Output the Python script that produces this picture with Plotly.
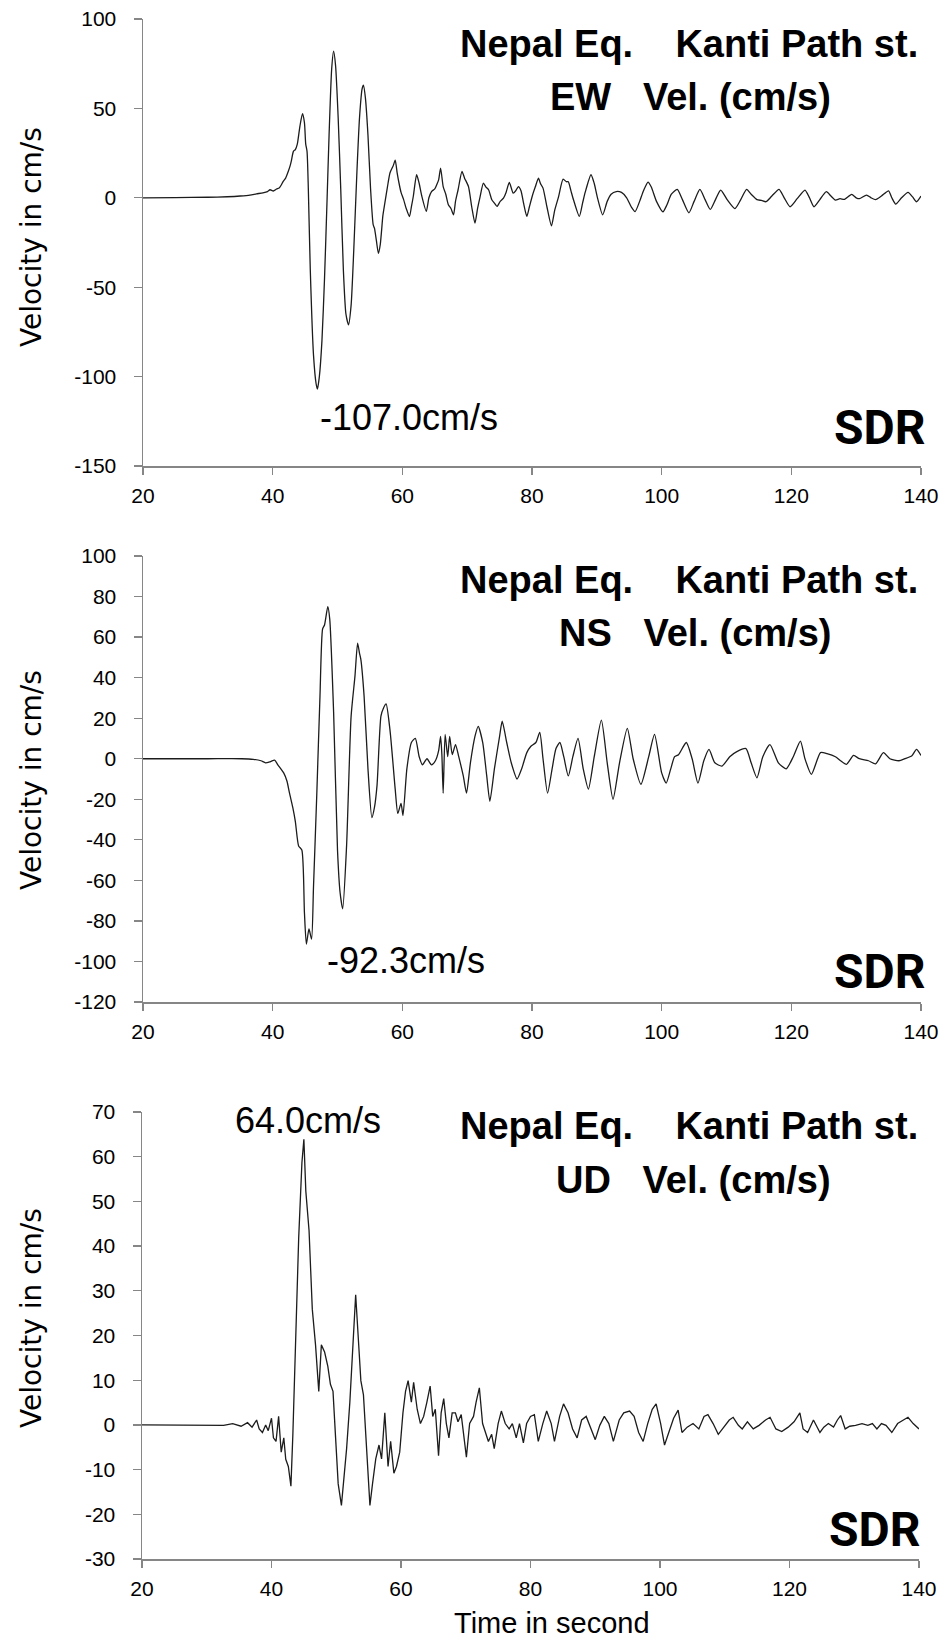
import plotly.graph_objects as go

W, H = 945, 1641

# ---------------- data ----------------
time_ew = [20, 25, 30, 33, 35, 36.5, 37.5, 38.5, 39.2, 39.6, 40.1, 40.6, 41.0, 41.3, 41.6, 42.0, 42.4, 42.7,
           42.9, 43.2, 43.5, 43.8, 44.2, 44.6, 44.9, 45.1, 45.3, 45.5, 45.8, 46.3, 46.7, 46.9, 47.2, 47.6,
           48.0, 48.4, 48.7, 49.1, 49.4, 49.7, 50.1, 50.5, 50.9, 51.3, 51.7, 52.1, 52.5, 53.0, 53.4, 53.8,
           54.0, 54.3, 54.7, 55.1, 55.5, 55.7, 56.0, 56.3, 56.6, 57.0, 57.3, 57.7, 58.1, 58.6, 58.9, 59.2,
           59.5, 59.8, 60.2, 60.6, 61.1, 61.4, 61.7, 62.2, 62.6, 63.0, 63.7, 64.1, 64.5, 65.0, 65.3, 65.6,
           65.9, 66.3, 66.7, 67.1, 67.5, 67.9, 68.2, 68.6, 69.2, 69.6, 70.2, 70.7, 71.2, 71.6, 72.0, 72.5,
           72.9, 73.3, 73.8, 74.2, 74.6, 75.1, 75.6, 76.0, 76.5, 77.1, 77.5, 77.9, 78.3, 78.7, 79.2, 79.6,
           80.1, 80.5, 81.0, 81.3, 81.7, 82.3, 83.0, 83.5, 84.1, 84.8, 85.3, 85.6, 86.0, 86.4, 87.3, 87.8,
           88.2, 89.1, 89.6, 90.1, 90.9, 91.6, 92.2, 93.0, 93.8, 94.6, 95.3, 95.9, 96.6, 97.2, 97.9, 98.4,
           99.2, 100.2, 100.8, 101.5, 102.4, 103.2, 104.2, 105.0, 105.9, 106.7, 107.5, 108.3, 109.1, 110.1,
           111.3, 112.2, 113.1, 113.8, 114.7, 115.4, 116.1, 117.0, 118.1, 118.9, 119.8, 120.9, 122.1, 122.8,
           123.5, 124.4, 125.4, 126.1, 126.8, 127.5, 128.2, 129.3, 130.0, 130.5, 131.6, 132.3, 133.0, 133.9,
           135.0, 135.5, 136.1, 137.0, 138.0, 138.7, 139.3, 140]
vel_ew = [0, 0.1, 0.3, 0.6, 1.0, 1.5, 2.2, 2.8, 3.5, 4.5, 3.8, 4.9, 5.5, 7, 9.1, 11, 14.7, 18,
          21, 26, 27, 30, 40, 47, 42, 30, 26, 5, -40, -88, -104, -107, -100, -80,
          -45, 0, 35, 72, 82, 74, 45, 5, -40, -65, -71, -60, -30, 15, 45, 61,
          63, 56, 35, 5, -15, -17, -24, -31, -26, -10, -3, 6, 14, 18, 21, 14,
          8, 3, -1, -6, -10.5, -5, 1, 12.9, 8, 1, -7.6, 0, 3.5, 5, 7.3, 10,
          16.6, 6.3, 2, -3.9, -6, -9.5, -2, 4.5, 14.7, 11, 6.3, -5, -14.2, -6, 0.7, 8.2,
          6, 4.5, -1.1, -3, -4.8, -2, -0.2, 3, 8.6, 2.6, 4, 6.3, 4, -3, -10.4, -5,
          1.7, 6, 11, 8, 5.4, -5, -15.7, -7, 0.7, 10.4, 9, 9, 4, -1.1, -10.4, -3,
          3, 12.9, 8, 0, -9.5, -2, 2, 3.5, 3, 0, -5, -7.7, -2, 4, 8.8, 6,
          -2, -7.8, -4, 2, 4.7, -1, -8.4, -2, 4.7, -1, -6.5, -1, 4.3, -1,
          -6, -1, 4.7, 2, -1, -1.5, -2.2, 1, 4.7, 0, -5, -0.5, 4.3, 0,
          -5, -1, 3.4, 1, -1.3, -0.5, -0.9, 1.9, 0, -0.5, 1.5, 0, -1, 1,
          3.9, 0, -3.5, 0, 3, 0.5, -2.2, 1]

time_ns = [20, 30, 35.2, 37, 38.2, 38.9, 39.6, 40.3, 40.8, 41.7, 42.2, 42.6, 43.1, 43.5, 44.0, 44.5, 44.9,
           45.2, 45.6, 46.0, 46.3, 46.8, 47.3, 47.7, 48.0, 48.5, 48.8, 49.4, 50.0, 50.4, 50.8, 51.4, 52.1,
           52.7, 53.1, 53.4, 53.6, 54.1, 54.7, 55.3, 55.7, 56.1, 56.7, 57.1, 57.5, 58.1, 58.9, 59.3, 59.8,
           60.1, 60.7, 61.4, 62.0, 62.6, 63.1, 63.8, 64.5, 65.1, 65.6, 65.9, 66.1, 66.3, 66.6, 67.0, 67.3,
           67.7, 68.2, 68.7, 69.4, 69.9, 70.5, 71.2, 71.7, 72.4, 73.0, 73.5, 74.2, 75.0, 75.4, 76.1, 76.8,
           77.7, 78.4, 79.2, 79.8, 80.6, 81.2, 81.7, 82.4, 83.1, 83.7, 84.3, 84.9, 85.6, 86.3, 87.1, 87.9,
           88.7, 89.6, 90.7, 91.6, 92.5, 93.5, 94.7, 95.6, 96.8, 98.0, 98.9, 100.0, 100.7, 101.4, 102.0,
           102.6, 103.8, 104.7, 105.6, 106.5, 107.3, 108.2, 109.3, 110.5, 111.6, 113.0, 113.8, 114.7, 115.6,
           116.7, 118.0, 119.2, 120.3, 121.4, 122.1, 123.1, 124.5, 125.5, 126.8, 127.6, 128.5, 129.6, 130.5,
           131.9, 133.0, 134.2, 135.2, 136.6, 137.5, 138.6, 139.3, 140]
vel_ns = [0, 0, 0, -0.3, -1, -2, -1.5, -0.7, -3, -7, -11, -17, -24, -31, -43, -45, -76,
          -91.5, -84, -89, -63, -18, 31, 64, 66, 75, 69, 23, -45, -66, -74, -43, 21,
          41, 57, 52, 49, 31, -5, -29, -24, -13, 21, 25, 27, 14, -15, -27, -22,
          -28, -5, 8, 10, 1, -3, 0, -3, -1, 4, 11, 2, -17, 12, 1, 11,
          2, 7, 1, -8.5, -17, -2, 11, 16, 8, -8, -21, -5, 11, 18.5, 8, -2,
          -10, -5, 3, 6, 8, 13, 0, -17, -5, 5, 8, 1, -8.5, 1, 10, -5,
          -15, 1, 19, -2, -20, -2, 15, 0, -12.6, 1, 12, -7, -12, -5, 1,
          2, 8, 0, -12, -1, 4.6, -2, -3.6, 1, 3.5, 5, -2, -9.4, 1,
          7, -2, -5, 1, 8.7, 0, -7.7, 3, 2.5, 1, -1, -2.8, 1.6, 0,
          -1, -2.5, 3, 0, -1, 0, 1.5, 4.6, 1.6]

time_ud = [20, 28.8, 32.6, 34.0, 35.3, 36.3, 37.0, 37.7, 38.1, 38.6, 39.1, 39.5, 40.0, 40.3, 40.7, 41.1,
           41.5, 41.9, 42.2, 42.6, 43.0, 43.3, 43.7, 44.2, 44.7, 45.0, 45.3, 45.8, 46.3, 46.8, 47.3, 47.7,
           48.2, 48.7, 49.1, 49.5, 49.9, 50.3, 50.8, 51.2, 51.6, 52.1, 52.5, 53.0, 53.4, 53.8, 54.2, 54.7,
           55.2, 55.6, 56.1, 56.6, 57.0, 57.5, 58.0, 58.4, 58.9, 59.3, 59.8, 60.3, 60.7, 61.1, 61.6, 61.95,
           62.5, 63.0, 63.5, 64.0, 64.5, 64.9, 65.3, 65.8, 66.2, 66.6, 67.0, 67.4, 67.9, 68.4, 68.8, 69.3,
           69.8, 70.1, 70.6, 71.2, 71.6, 72.1, 72.6, 73.0, 73.5, 74.0, 74.4, 75.0, 75.5, 76.1, 76.7, 77.2,
           77.8, 78.3, 78.9, 79.4, 80.0, 80.6, 81.2, 81.9, 82.5, 83.2, 83.7, 84.5, 85.1, 85.8, 86.5, 87.2,
           87.9, 88.6, 89.3, 90.0, 90.7, 91.4, 92.1, 92.8, 93.7, 94.4, 95.3, 96.0, 96.7, 97.4, 98.1, 98.8,
           99.4, 100.1, 100.7, 101.4, 102.1, 102.8, 103.4, 104.2, 105.1, 106.0, 106.8, 107.4, 108.2, 109.0,
           109.8, 110.7, 111.3, 112.1, 112.7, 113.5, 114.4, 115.3, 116.3, 117.0, 117.9, 118.8, 119.8, 120.7,
           121.6, 122.1, 122.8, 123.7, 124.7, 125.3, 126.0, 126.8, 127.4, 127.9, 128.6, 129.3, 130.2, 131.2,
           132.1, 132.8, 133.5, 134.2, 134.9, 135.8, 136.7, 137.7, 138.3, 139.1, 140]
vel_ud = [0, 0, -0.1, 0.3, -0.3, 0.5, -0.5, 1.1, -0.9, -1.7, 0, -1.3, 1.5, -2.9, -3.7, 1.9,
          -6.1, -2.9, -7.7, -9.3, -13.7, -2.1, 15.5, 41.9, 58.7, 63.9, 52.3, 43.5, 25.9, 17.9, 7.5, 17.9,
          16.3, 13.1, 9.1, 7.5, -2.9, -13.2, -18, -12.4, -5.3, 5.1, 14.7, 29.1, 19.5, 9.9, 6.7, -6.9,
          -18, -13.2, -7.6, -4.5, -7.6, 2.7, -9.3, -3.7, -10.8, -9.3, -6.1, 2.7, 7.5, 9.9, 5.1, 9.5,
          3.5, 0.3, 1.9, 5.1, 8.7, 1.9, 3.5, -6.9, 2.7, 5.9, 0.3, -2.9, 2.7, 2.7, 0.7, 2.3,
          -2.9, -7.2, 0.3, 1.9, 5.1, 8.3, 0.3, -1.3, -3.7, -2.1, -5.3, 0.3, 3.1, 0.3, -0.9, 0.3,
          -2.9, 0.3, -4.0, 0.3, 1.9, 2.3, -3.7, 0.3, 3.1, 0.3, -3.7, 1.9, 4.7, 2.7, -0.9, -2.9,
          1.1, 1.9, -0.9, -3.3, -0.1, 1.9, 0.3, -3.7, 1.1, 2.7, 3.1, 1.9, -1.7, -3.7, 0.3, 3.5,
          4.7, 0.3, -4.5, -1.7, 1.5, 3.3, -1.7, -0.5, 0.3, -0.9, 1.9, 2.3, 0.3, -2.1,
          -0.5, 1.1, 1.7, -0.1, -0.9, 0.7, -0.9, -0.1, 1.1, 1.7, -0.9, -1.5, -0.5, 0.7,
          2.7, -0.9, -1.7, 1.1, -1.7, -0.5, 0.3, -0.5, 1.1, 2.1, -0.9, -0.3, -0.1, 0.3,
          -0.1, 0.3, -0.9, 0.3, -0.1, -1.7, 0.3, 1.1, 1.7, 0.3, -0.9]

x_tick_vals = [20, 40, 60, 80, 100, 120, 140]
y_ticks_ew = [-150, -100, -50, 0, 50, 100]
y_ticks_ns = [-120, -100, -80, -60, -40, -20, 0, 20, 40, 60, 80, 100]
y_ticks_ud = [-30, -20, -10, 0, 10, 20, 30, 40, 50, 60, 70]
components = ["EW", "NS", "UD"]
peak_labels = ["-107.0cm/s", "-92.3cm/s", "64.0cm/s"]
title_line1 = "Nepal Eq.\u00a0\u00a0\u00a0\u00a0Kanti Path st."
y_title = "Velocity in cm/s"
x_title = "Time in second"
logo_text = "SDR"

# ---------------- layout helpers (pixel -> paper) ----------------
def PX(x):
    return x / W

def PY(y):
    return 1 - y / H

AXIS_GREY = "#868686"
TICK_FONT = dict(family="Liberation Sans, Arial, sans-serif", size=21, color="black")
BOLD_FONT = "Liberation Sans, Arial, sans-serif"

panels = [
    dict(t=time_ew, v=vel_ew, yt=y_ticks_ew, x0=143, x1=921, top=19, bot=466,
         l1=44, l2=97, lab=(409, 417), logo=(880, 427), ytc=237),
    dict(t=time_ns, v=vel_ns, yt=y_ticks_ns, x0=143, x1=921, top=556, bot=1002,
         l1=580, l2=633, lab=(406, 960), logo=(880, 971), ytc=780),
    dict(t=time_ud, v=vel_ud, yt=y_ticks_ud, x0=142, x1=919, top=1112, bot=1559,
         l1=1126, l2=1180, lab=(308, 1120), logo=(875, 1529), ytc=1318),
]

fig = go.Figure()
annotations = []
layout = dict(width=W, height=H, margin=dict(l=0, r=0, t=0, b=0),
              paper_bgcolor="white", plot_bgcolor="white", showlegend=False)

for i, p in enumerate(panels):
    n = "" if i == 0 else str(i + 1)
    fig.add_trace(go.Scatter(
        x=p["t"], y=p["v"], mode="lines", xaxis="x" + n, yaxis="y" + n,
        line=dict(color="#1c1c1c", width=1.3,
                  shape="linear" if i == 2 else "spline", smoothing=0.6),
        hoverinfo="skip"))
    layout["xaxis" + n] = dict(
        domain=[PX(p["x0"]), PX(p["x1"])], range=[20, 140], anchor="y" + n,
        tickmode="array", tickvals=x_tick_vals, ticktext=[str(v) for v in x_tick_vals],
        ticks="outside", ticklen=7,
        tickwidth=1.3, tickcolor=AXIS_GREY, showline=True, linecolor=AXIS_GREY,
        linewidth=1.5, showgrid=False, zeroline=False, tickfont=TICK_FONT,
        ticklabelstandoff=3, automargin=False, fixedrange=True)
    layout["yaxis" + n] = dict(
        domain=[PY(p["bot"]), PY(p["top"])], range=[p["yt"][0], p["yt"][-1]],
        anchor="x" + n, tickmode="array", tickvals=p["yt"],
        ticktext=[str(v) for v in p["yt"]], ticks="outside",
        ticklen=8, tickwidth=1.3, tickcolor=AXIS_GREY, showline=True,
        linecolor=AXIS_GREY, linewidth=1.5, showgrid=False, zeroline=False,
        tickfont=TICK_FONT, ticklabelstandoff=13, automargin=False, fixedrange=True)

    # title lines
    annotations.append(dict(
        text="<b>" + title_line1 + "</b>", x=PX(689), y=PY(p["l1"]), xref="paper", yref="paper",
        xanchor="center", yanchor="middle", showarrow=False,
        font=dict(family=BOLD_FONT, size=38, color="black")))
    annotations.append(dict(
        text="<b>" + components[i] + "\u00a0\u00a0\u00a0Vel. (cm/s)</b>", x=PX(833), y=PY(p["l2"]),
        xref="paper", yref="paper", xanchor="right", yanchor="middle", showarrow=False,
        font=dict(family=BOLD_FONT, size=38, color="black")))
    # peak label
    annotations.append(dict(
        text=peak_labels[i], x=PX(p["lab"][0]), y=PY(p["lab"][1]), xref="paper", yref="paper",
        xanchor="center", yanchor="middle", showarrow=False,
        font=dict(family="Liberation Sans, Arial, sans-serif", size=36, color="black")))
    # logo
    annotations.append(dict(
        text="<b>" + logo_text + "</b>", x=PX(p["logo"][0]), y=PY(p["logo"][1]),
        xref="paper", yref="paper", xanchor="center", yanchor="middle", showarrow=False,
        font=dict(family="Roboto, Liberation Sans, sans-serif", size=48, color="black",
                  weight=900)))
    # y axis title
    annotations.append(dict(
        text=y_title, x=PX(31), y=PY(p["ytc"]), xref="paper", yref="paper",
        xanchor="center", yanchor="middle", textangle=-90, showarrow=False,
        font=dict(family="DejaVu Sans, Verdana, sans-serif", size=28, color="black")))

annotations.append(dict(
    text=x_title, x=PX(552), y=PY(1640), xref="paper", yref="paper",
    xanchor="center", yanchor="bottom", showarrow=False, borderpad=0,
    font=dict(family="Liberation Sans, Arial, sans-serif", size=29, color="black")))

layout["annotations"] = annotations
fig.update_layout(**layout)
fig.write_html(
    "out.html",
    config={"displayModeBar": False, "staticPlot": True},
    post_script="document.body.style.margin='0px';"
                "document.documentElement.style.overflow='hidden';"
                "document.body.style.overflow='hidden';")
